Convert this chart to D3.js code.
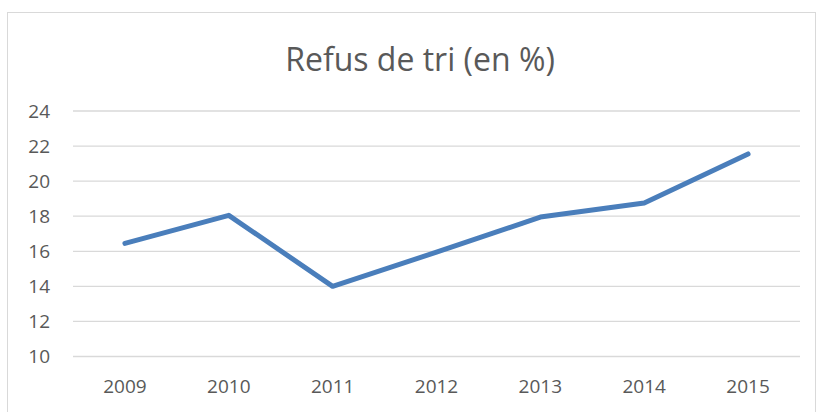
<!DOCTYPE html>
<html>
<head>
<meta charset="utf-8">
<script src="https://cdn.jsdelivr.net/npm/d3@7"></script>
<style>
  body { margin: 0; background: #fff; }
  text { font-family: "Open Sans", sans-serif; fill: #595959; }
</style>
</head>
<body>
<div id="chart"></div>
<script>
var svgWidth = 819;
var svgHeight = 412;

var margin = { top: 111, right: 19, bottom: 55.5, left: 73 };
var width = svgWidth - margin.left - margin.right;
var height = svgHeight - margin.top - margin.bottom;

// data
var years = ["2009", "2010", "2011", "2012", "2013", "2014", "2015"];
var refus = [16.45, 18.05, 14.0, 15.95, 17.95, 18.75, 21.55];
var yTicks = [10, 12, 14, 16, 18, 20, 22, 24];

var svg = d3.select("#chart")
  .append("svg")
  .attr("width", svgWidth)
  .attr("height", svgHeight);

// chart frame
svg.append("rect")
  .attr("x", 7.5)
  .attr("y", 12.5)
  .attr("width", 808)
  .attr("height", 410)
  .attr("fill", "none")
  .attr("stroke", "#d9d9d9");

svg.append("text")
  .attr("x", 420)
  .attr("y", 71)
  .attr("text-anchor", "middle")
  .attr("font-size", "32px")
  .text("Refus de tri (en %)");

var chartGroup = svg.append("g")
  .attr("transform", `translate(${margin.left}, ${margin.top})`);

var x = d3.scaleBand()
  .domain(years)
  .range([0, width]);

var y = d3.scaleLinear()
  .domain([10, 24])
  .range([height, 0]);

// gridlines
chartGroup.append("g")
  .selectAll("line")
  .data(yTicks)
  .enter()
  .append("line")
  .attr("x1", 0)
  .attr("x2", width)
  .attr("y1", d => y(d))
  .attr("y2", d => y(d))
  .attr("stroke", "#d9d9d9")
  .attr("stroke-width", 1.3);

var leftAxis = d3.axisLeft(y).tickValues(yTicks).tickSize(0).tickPadding(23);
chartGroup.append("g")
  .call(leftAxis)
  .call(g => g.select(".domain").remove())
  .selectAll("text")
  .attr("font-size", "19px")
  .attr("font-family", "Open Sans, sans-serif")
  .attr("fill", "#595959");

var bottomAxis = d3.axisBottom(x).tickSize(0).tickPadding(23);
chartGroup.append("g")
  .attr("transform", `translate(0, ${height})`)
  .call(bottomAxis)
  .call(g => g.select(".domain").remove())
  .selectAll("text")
  .attr("font-size", "19px")
  .attr("font-family", "Open Sans, sans-serif")
  .attr("fill", "#595959");

var line = d3.line()
  .x((d, i) => x(years[i]) + x.bandwidth() / 2)
  .y(d => y(d));

chartGroup.append("path")
  .datum(refus)
  .attr("d", line)
  .attr("fill", "none")
  .attr("stroke", "#4a7ebb")
  .attr("stroke-width", 5)
  .attr("stroke-linecap", "round")
  .attr("stroke-linejoin", "round");
</script>
</body>
</html>
